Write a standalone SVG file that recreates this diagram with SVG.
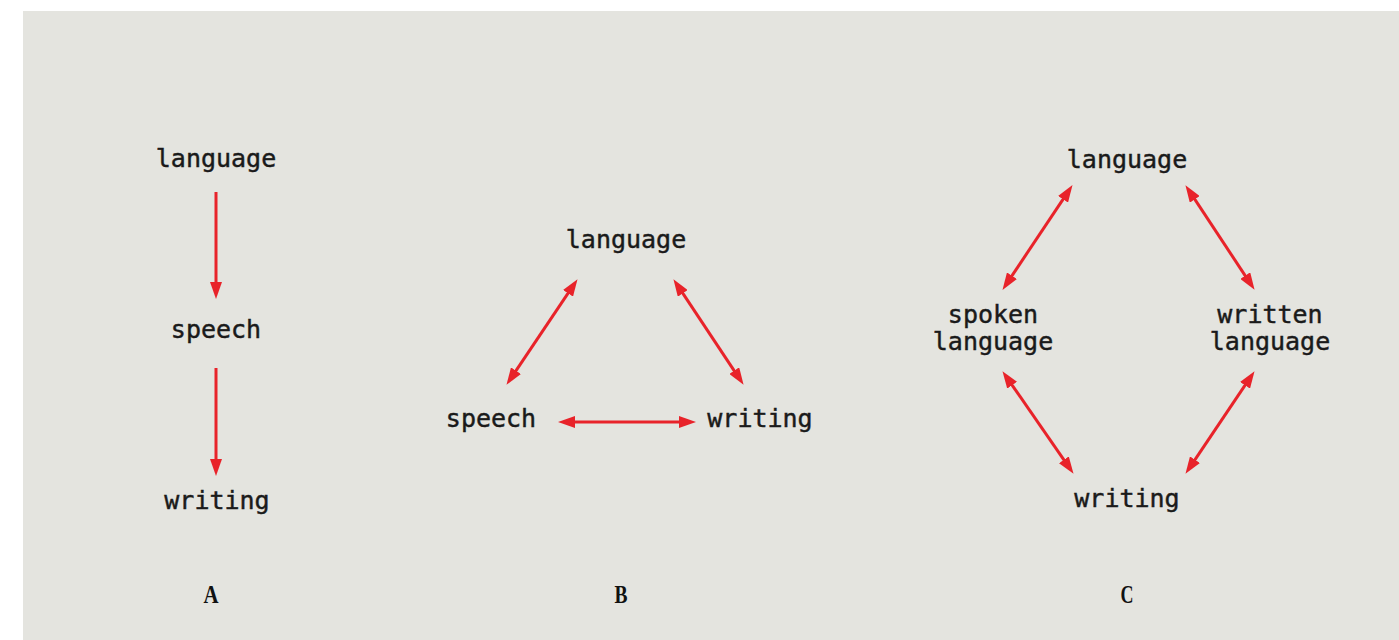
<svg xmlns="http://www.w3.org/2000/svg" width="1399" height="640" viewBox="0 0 1399 640">
  <style>
    .lbl { font-family: "DejaVu Sans Mono", "Liberation Mono", monospace; font-size: 25px; fill: #1a1a1a; stroke: #1a1a1a; stroke-width: 0.45; text-anchor: middle; }
    .cap { font-family: "Liberation Serif", serif; font-weight: bold; font-size: 26px; fill: #111; text-anchor: middle; }
    .link { stroke: #e8232a; stroke-width: 3; fill: none; }
  </style>
  <defs>
    <marker id="head" viewBox="0 0 17 12" refX="8" refY="6" markerWidth="17" markerHeight="12" markerUnits="userSpaceOnUse" orient="auto-start-reverse">
      <path d="M0,0 L17,6 L0,12 Z" fill="#e8232a"/>
    </marker>
  </defs>

  <!-- page and panel -->
  <rect x="0" y="0" width="1399" height="640" fill="#ffffff"/>
  <rect x="23" y="11" width="1376" height="629" fill="#e4e4df"/>

  <!-- A: linear chain -->
  <g id="a-language"><text class="lbl" x="216" y="167">language</text></g>
  <g id="a-speech"><text class="lbl" x="216" y="338">speech</text></g>
  <g id="a-writing"><text class="lbl" x="217" y="509">writing</text></g>

  <!-- B: triangle -->
  <g id="b-language"><text class="lbl" x="626" y="248">language</text></g>
  <g id="b-speech"><text class="lbl" x="491" y="427">speech</text></g>
  <g id="b-writing"><text class="lbl" x="760" y="427">writing</text></g>

  <!-- C: diamond -->
  <g id="c-language"><text class="lbl" x="1127" y="168">language</text></g>
  <g id="c-spoken"><text class="lbl" x="993" y="323">spoken</text><text class="lbl" x="993" y="350">language</text></g>
  <g id="c-written"><text class="lbl" x="1270" y="323">written</text><text class="lbl" x="1270" y="350">language</text></g>
  <g id="c-writing"><text class="lbl" x="1127" y="507">writing</text></g>

  <!-- panel captions (narrow bold serif) -->
  <g id="captions">
    <text class="cap" x="211" y="603" textLength="15" lengthAdjust="spacingAndGlyphs">A</text>
    <text class="cap" x="621" y="603" textLength="13" lengthAdjust="spacingAndGlyphs">B</text>
    <text class="cap" x="1127" y="603" textLength="13" lengthAdjust="spacingAndGlyphs">C</text>
  </g>

  <!-- connectors -->
  <g id="connectors" class="link">
    <line x1="216" y1="192" x2="216" y2="290" marker-end="url(#head)"/>
    <line x1="216" y1="368" x2="216" y2="467" marker-end="url(#head)"/>

    <line x1="572.5" y1="286.6" x2="511.5" y2="377.4" marker-start="url(#head)" marker-end="url(#head)"/>
    <line x1="678.4" y1="286.7" x2="738.6" y2="377.3" marker-start="url(#head)" marker-end="url(#head)"/>
    <line x1="567" y1="422" x2="687" y2="422" marker-start="url(#head)" marker-end="url(#head)"/>

    <line x1="1067.5" y1="192.6" x2="1007.5" y2="282.4" marker-start="url(#head)" marker-end="url(#head)"/>
    <line x1="1190.4" y1="192.7" x2="1249.6" y2="282.3" marker-start="url(#head)" marker-end="url(#head)"/>
    <line x1="1007.6" y1="378.6" x2="1068.4" y2="466.4" marker-start="url(#head)" marker-end="url(#head)"/>
    <line x1="1249.5" y1="378.6" x2="1190.5" y2="466.4" marker-start="url(#head)" marker-end="url(#head)"/>
  </g>
</svg>
